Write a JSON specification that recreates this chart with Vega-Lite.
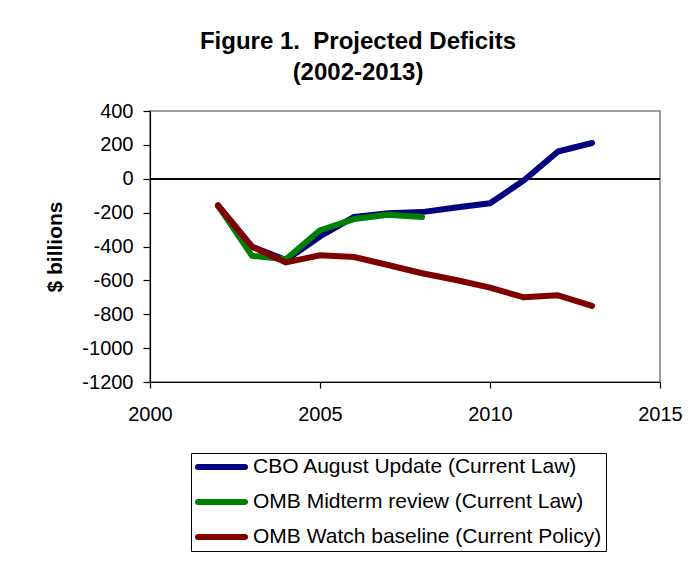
{
  "$schema": "https://vega.github.io/schema/vega-lite/v6.json",
  "width": 510,
  "height": 271,
  "autosize": "none",
  "padding": {"left": 150, "top": 111, "right": 40, "bottom": 197},
  "background": "white",
  "title": {
    "text": ["Figure 1.\u00a0 Projected Deficits", "(2002-2013)"],
    "font": "Liberation Sans",
    "fontSize": 24,
    "fontWeight": "bold",
    "color": "black",
    "anchor": "middle",
    "dx": -47,
    "lineHeight": 31,
    "offset": 16
  },
  "data": {
    "values": [
      {"year": 2002, "value": -158, "series": "CBO August Update (Current Law)"},
      {"year": 2003, "value": -401, "series": "CBO August Update (Current Law)"},
      {"year": 2004, "value": -480, "series": "CBO August Update (Current Law)"},
      {"year": 2005, "value": -341, "series": "CBO August Update (Current Law)"},
      {"year": 2006, "value": -225, "series": "CBO August Update (Current Law)"},
      {"year": 2007, "value": -203, "series": "CBO August Update (Current Law)"},
      {"year": 2008, "value": -197, "series": "CBO August Update (Current Law)"},
      {"year": 2009, "value": -170, "series": "CBO August Update (Current Law)"},
      {"year": 2010, "value": -145, "series": "CBO August Update (Current Law)"},
      {"year": 2011, "value": -9, "series": "CBO August Update (Current Law)"},
      {"year": 2012, "value": 161, "series": "CBO August Update (Current Law)"},
      {"year": 2013, "value": 211, "series": "CBO August Update (Current Law)"},
      {"year": 2002, "value": -158, "series": "OMB Midterm review (Current Law)"},
      {"year": 2003, "value": -455, "series": "OMB Midterm review (Current Law)"},
      {"year": 2004, "value": -475, "series": "OMB Midterm review (Current Law)"},
      {"year": 2005, "value": -304, "series": "OMB Midterm review (Current Law)"},
      {"year": 2006, "value": -238, "series": "OMB Midterm review (Current Law)"},
      {"year": 2007, "value": -213, "series": "OMB Midterm review (Current Law)"},
      {"year": 2008, "value": -226, "series": "OMB Midterm review (Current Law)"},
      {"year": 2002, "value": -158, "series": "OMB Watch baseline (Current Policy)"},
      {"year": 2003, "value": -401, "series": "OMB Watch baseline (Current Policy)"},
      {"year": 2004, "value": -494, "series": "OMB Watch baseline (Current Policy)"},
      {"year": 2005, "value": -452, "series": "OMB Watch baseline (Current Policy)"},
      {"year": 2006, "value": -462, "series": "OMB Watch baseline (Current Policy)"},
      {"year": 2007, "value": -509, "series": "OMB Watch baseline (Current Policy)"},
      {"year": 2008, "value": -558, "series": "OMB Watch baseline (Current Policy)"},
      {"year": 2009, "value": -598, "series": "OMB Watch baseline (Current Policy)"},
      {"year": 2010, "value": -643, "series": "OMB Watch baseline (Current Policy)"},
      {"year": 2011, "value": -700, "series": "OMB Watch baseline (Current Policy)"},
      {"year": 2012, "value": -688, "series": "OMB Watch baseline (Current Policy)"},
      {"year": 2013, "value": -751, "series": "OMB Watch baseline (Current Policy)"}
    ]
  },
  "layer": [
    {
      "mark": {"type": "rule", "color": "black", "strokeWidth": 1.5},
      "encoding": {"y": {"datum": 0, "type": "quantitative"}}
    },
    {
      "mark": {"type": "line", "strokeWidth": 6, "strokeCap": "round", "strokeJoin": "round"},
      "encoding": {
        "x": {
          "field": "year",
          "type": "quantitative",
          "scale": {"domain": [2000, 2015], "nice": false, "zero": false},
          "axis": {"values": [2000, 2005, 2010, 2015], "tickCount": 10, "format": "d", "labelFlush": false, "title": null}
        },
        "y": {
          "field": "value",
          "type": "quantitative",
          "scale": {"domain": [-1200, 400], "nice": false},
          "axis": {
            "values": [-1200, -1000, -800, -600, -400, -200, 0, 200, 400],
            "tickCount": 20,
            "labelExpr": "toString(datum.value)",
            "labelOverlap": false,
            "labelFlush": false,
            "title": "$ billions",
            "titleFont": "Liberation Sans",
            "titleFontSize": 21,
            "titleFontWeight": "bold",
            "titleColor": "black",
            "titlePadding": 16
          }
        },
        "color": {
          "field": "series",
          "type": "nominal",
          "scale": {
            "domain": ["CBO August Update (Current Law)", "OMB Midterm review (Current Law)", "OMB Watch baseline (Current Policy)"],
            "range": ["#000080", "#008000", "#800000"]
          },
          "legend": {
            "title": null,
            "orient": "none",
            "legendX": 41,
            "legendY": 342,
            "strokeColor": "black",
            "padding": 4,
            "symbolType": "stroke",
            "symbolSize": 2209,
            "symbolStrokeWidth": 6,
            "symbolOffset": 0,
            "clipHeight": 20,
            "rowPadding": 14,
            "labelFont": "Liberation Sans",
            "labelFontSize": 21,
            "labelColor": "black",
            "labelOffset": 5,
            "labelLimit": 0,
            "labelExpr": "datum.label + '\u00a0\u00a0\u00a0\u00a0\u00a0\u00a0\u00a0'",
            "encode": {"symbols": {"update": {"strokeCap": {"value": "round"}}}}
          }
        }
      }
    }
  ],
  "config": {
    "view": {"stroke": "#808080", "strokeWidth": 1.5},
    "axis": {
      "grid": false,
      "domainColor": "black",
      "domainWidth": 1.2,
      "tickColor": "black",
      "tickWidth": 1.2,
      "labelFont": "Liberation Sans",
      "labelFontSize": 20,
      "labelColor": "black",
      "labelOverlap": false
    },
    "axisY": {"tickSize": 7, "labelPadding": 10},
    "axisX": {"tickSize": 6, "labelPadding": 16}
  }
}
